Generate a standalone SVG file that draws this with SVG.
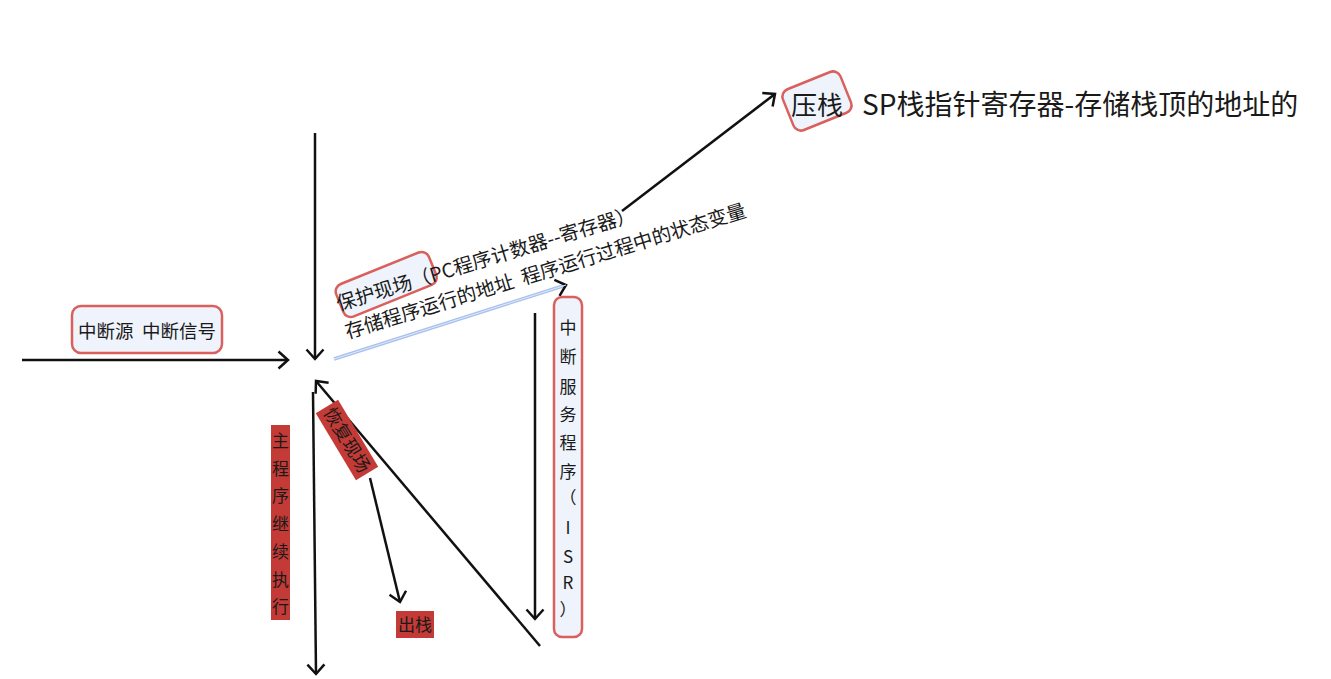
<svg xmlns="http://www.w3.org/2000/svg" width="1331" height="679" viewBox="0 0 1331 679" xml:space="preserve">
<defs>
<style>
text{font-family:"Noto Sans CJK SC","Noto Sans",sans-serif;fill:#1a1a1a;white-space:pre;}
.edge{stroke:#111;stroke-width:2.5;fill:none;marker-end:url(#arr);}
.box{fill:#eef3fc;stroke:#d9605c;stroke-width:2.5;}
.red{fill:#c43a36;}
.v{font-size:17px;text-anchor:middle;}
</style>
<marker id="arr" markerUnits="userSpaceOnUse" markerWidth="14" markerHeight="20" refX="11" refY="9" orient="auto" overflow="visible"><path d="M1.5,0.5 L11,9 L1.5,17.5" fill="none" stroke="#111" stroke-width="2.5"/></marker>
</defs>
<rect width="1331" height="679" fill="#fff"/>
<g id="connectors">
<path class="edge" d="M22,360 L288,360"/>
<path class="edge" d="M315,133 L315,359"/>
<path d="M334,359 L566,285" stroke="#a9c1ec" stroke-width="3.5" fill="none" marker-end="url(#arr)"/>
<path d="M334,359 L566,285" stroke="#dfe8fa" stroke-width="1" fill="none"/>
<path class="edge" d="M622,211 L775,94"/>
<path class="edge" d="M535,313 L535,619"/>
<path class="edge" d="M540,646 L316,381"/>
<path class="edge" d="M313,392 L316,674"/>
<path class="edge" d="M370,478 L400,602"/>
</g>
<g id="n-source">
<rect class="box" x="72" y="306" width="150" height="47" rx="9"/>
<text x="147" y="338" font-size="18.5" text-anchor="middle">中断源  中断信号</text>
</g>
<g id="n-protect">
<g transform="translate(386,284) rotate(-22)"><rect class="box" x="-50" y="-17" width="100" height="35" rx="8"/></g>
<g transform="translate(339,311) rotate(-17)">
<text x="0" y="0" font-size="19.5">保护现场（PC程序计数器--寄存器）</text>
<text x="0" y="29" font-size="19.5">存储程序运行的地址  程序运行过程中的状态变量</text>
</g>
</g>
<g id="n-push">
<g transform="translate(817,101) rotate(-22)"><rect class="box" x="-31" y="-22" width="62" height="44" rx="8"/></g>
<text x="791" y="115" font-size="26">压栈</text>
<text x="862" y="115" font-size="28">SP栈指针寄存器-存储栈顶的地址的</text>
</g>
<g id="n-isr">
<rect class="box" x="554" y="297" width="28" height="340" rx="8"/>
<text class="v" x="568" y="334">中</text>
<text class="v" x="568" y="363">断</text>
<text class="v" x="568" y="393">服</text>
<text class="v" x="568" y="421">务</text>
<text class="v" x="568" y="449">程</text>
<text class="v" x="568" y="478">序</text>
<text class="v" x="568" y="504">（</text>
<text class="v" x="568" y="534">I</text>
<text class="v" x="568" y="563">S</text>
<text class="v" x="568" y="589">R</text>
<text class="v" x="568" y="616">）</text>
</g>
<g id="n-main">
<rect class="red" x="271" y="425" width="19" height="195"/>
<text class="v" x="280.5" y="447">主</text>
<text class="v" x="280.5" y="475">程</text>
<text class="v" x="280.5" y="502">序</text>
<text class="v" x="280.5" y="530">继</text>
<text class="v" x="280.5" y="558">续</text>
<text class="v" x="280.5" y="586">执</text>
<text class="v" x="280.5" y="613">行</text>
</g>
<g id="n-restore">
<g transform="translate(347,440) rotate(59)">
<rect class="red" x="-39" y="-13" width="78" height="26"/>
<text x="0" y="6.5" font-size="18" text-anchor="middle">恢复现场</text>
</g>
</g>
<g id="n-pop">
<rect class="red" x="396" y="611" width="38" height="27"/>
<text x="415" y="631" font-size="17" text-anchor="middle">出栈</text>
</g>
</svg>
